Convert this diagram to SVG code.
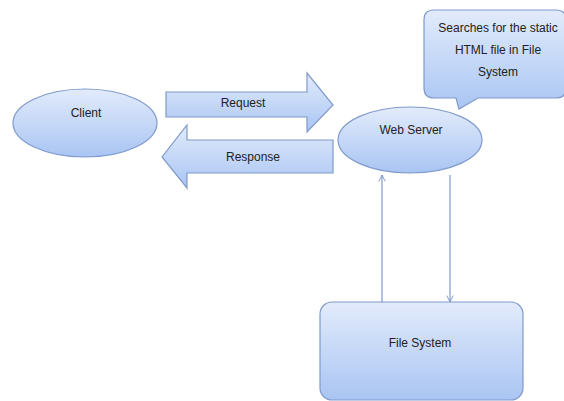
<svg xmlns="http://www.w3.org/2000/svg" width="564" height="401" viewBox="0 0 564 401">
<defs>
<linearGradient id="g" x1="0" y1="0" x2="0" y2="1">
<stop offset="0" stop-color="#e2ebfb"/>
<stop offset="1" stop-color="#a9c5f3"/>
</linearGradient>
<marker id="open" viewBox="0 0 10 10" refX="9" refY="5" markerWidth="8" markerHeight="8" orient="auto" markerUnits="userSpaceOnUse">
<path d="M1,1 L9,5 L1,9" fill="none" stroke="#7f9acb" stroke-width="1.2"/>
</marker>
</defs>
<style>
.shape{fill:url(#g);stroke:#7f9acb;stroke-width:1.2}
.t{font-family:"Liberation Sans",Arial,sans-serif;font-size:12px;fill:#222;text-anchor:middle}
.ln{stroke:#7f9acb;stroke-width:1.2;fill:none}
</style>
<rect width="564" height="401" fill="#fff"/>
<g id="client">
<ellipse class="shape" cx="85" cy="123" rx="72" ry="34"/>
<text class="t" x="86" y="117">Client</text>
</g>
<g id="request">
<path class="shape" d="M166,92 L307,92 L307,73 L333,105 L307,132 L307,117 L166,117 Z"/>
<text class="t" x="243" y="107">Request</text>
</g>
<g id="response">
<path class="shape" d="M333,140 L187,140 L187,125 L162,157 L187,188 L187,173 L333,173 Z"/>
<text class="t" x="253" y="161">Response</text>
</g>
<g id="webserver">
<ellipse class="shape" cx="410" cy="140" rx="72" ry="33"/>
<text class="t" x="411" y="134">Web Server</text>
</g>
<g id="callout">
<path class="shape" d="M434,10 L556,10 Q566,10 566,20 L566,88 Q566,98 556,98 L478,98 L459,109 L456,98 L434,98 Q424,98 424,88 L424,20 Q424,10 434,10 Z"/>
<text class="t" x="498" y="32">Searches for the static</text>
<text class="t" x="498" y="54">HTML file in File</text>
<text class="t" x="498" y="76">System</text>
</g>
<g id="filesystem">
<rect class="shape" x="320" y="302" width="203" height="98" rx="12"/>
<text class="t" x="420" y="347">File System</text>
</g>
<g id="connectors">
<line class="ln" x1="382" y1="302" x2="382" y2="175" marker-end="url(#open)"/>
<line class="ln" x1="450" y1="175" x2="450" y2="302" marker-end="url(#open)"/>
</g>
</svg>
